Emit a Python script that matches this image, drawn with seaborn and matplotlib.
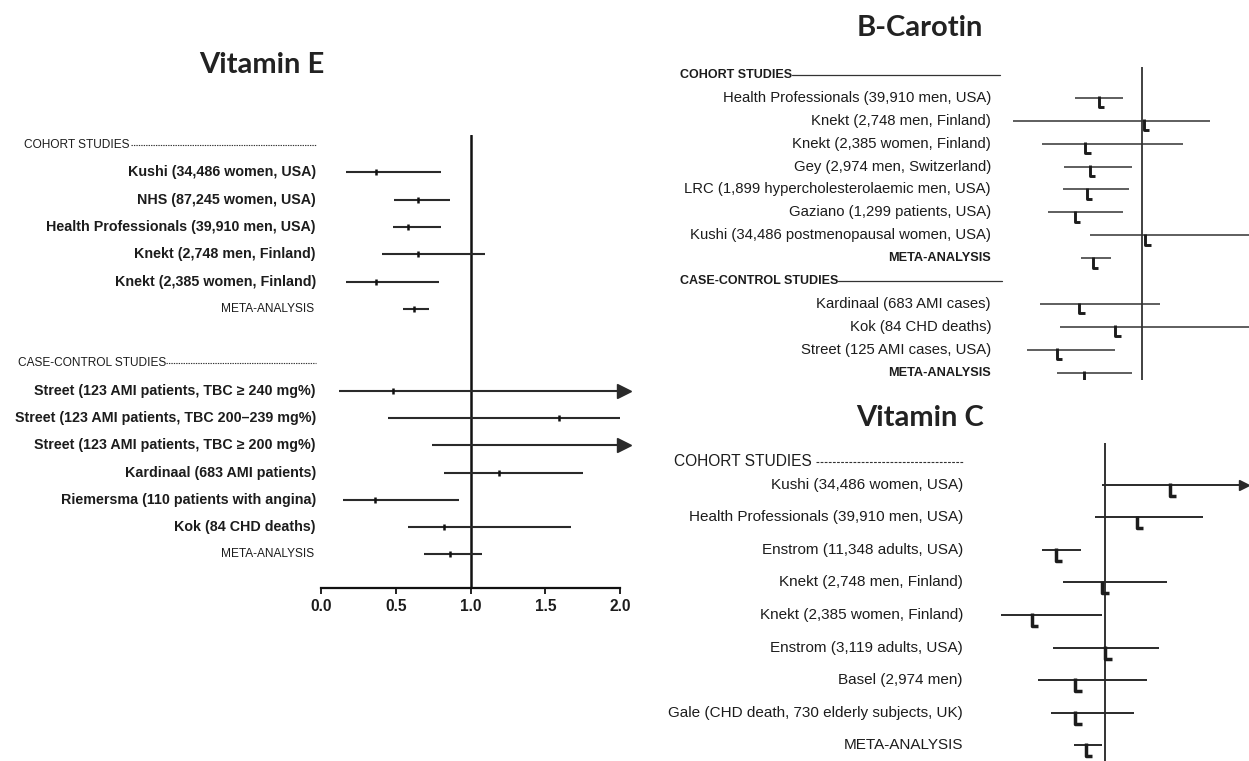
import numpy as np
import pandas as pd
import matplotlib
matplotlib.use("Agg")
import matplotlib.pyplot as plt
import seaborn as sns
from matplotlib.path import Path

# ------------------------------------------------------------------ data
# Vitamin E (relative risk, 95% CI)
vite_cohort_labels = ["Kushi (34,486 women, USA)", "NHS (87,245 women, USA)",
                      "Health Professionals (39,910 men, USA)",
                      "Knekt (2,748 men, Finland)", "Knekt (2,385 women, Finland)"]
vite_cohort_est = [0.37, 0.65, 0.58, 0.65, 0.37]
vite_cohort_lo = [0.17, 0.49, 0.48, 0.41, 0.17]
vite_cohort_hi = [0.80, 0.86, 0.80, 1.10, 0.79]
vite_cohort_meta = [0.62, 0.55, 0.72]

vite_case_labels = ["Street (123 AMI patients, TBC \u2265 240 mg%)",
                    "Street (123 AMI patients, TBC 200\u2013239 mg%)",
                    "Street (123 AMI patients, TBC \u2265 200 mg%)",
                    "Kardinaal (683 AMI patients)",
                    "Riemersma (110 patients with angina)",
                    "Kok (84 CHD deaths)"]
vite_case_est = [0.48, 1.59, np.nan, 1.19, 0.36, 0.82]
vite_case_lo = [0.12, 0.45, 0.74, 0.82, 0.15, 0.58]
vite_case_hi = [np.inf, 2.00, np.inf, 1.75, 0.92, 1.67]
vite_case_meta = [0.86, 0.69, 1.08]
vite_ticks = [0.0, 0.5, 1.0, 1.5, 2.0]

# B-Carotin
bc_cohort_labels = ["Health Professionals (39,910 men, USA)", "Knekt (2,748 men, Finland)",
                    "Knekt (2,385 women, Finland)", "Gey (2,974 men, Switzerland)",
                    "LRC (1,899 hypercholesterolaemic men, USA)",
                    "Gaziano (1,299 patients, USA)",
                    "Kushi (34,486 postmenopausal women, USA)"]
bc_cohort_est = [0.71, 1.01, 0.62, 0.65, 0.63, 0.55, 1.02]
bc_cohort_lo = [0.55, 0.14, 0.33, 0.48, 0.47, 0.37, 0.65]
bc_cohort_hi = [0.87, 1.45, 1.27, 0.93, 0.91, 0.87, 1.75]
bc_cohort_meta = [0.67, 0.59, 0.79]
bc_case_labels = ["Kardinaal (683 AMI cases)", "Kok (84 CHD deaths)",
                  "Street (125 AMI cases, USA)"]
bc_case_est = [0.58, 0.82, 0.43]
bc_case_lo = [0.32, 0.45, 0.23]
bc_case_hi = [1.12, 1.75, 0.82]
bc_case_meta = [0.61, 0.43, 0.93]

# Vitamin C
vc_labels = ["Kushi (34,486 women, USA)", "Health Professionals (39,910 men, USA)",
             "Enstrom (11,348 adults, USA)", "Knekt (2,748 men, Finland)",
             "Knekt (2,385 women, Finland)", "Enstrom (3,119 adults, USA)",
             "Basel (2,974 men)", "Gale (CHD death, 730 elderly subjects, UK)"]
vc_est = [1.43, 1.21, 0.67, 0.98, 0.51, 1.00, 0.80, 0.80]
vc_lo = [0.98, 0.93, 0.58, 0.72, 0.31, 0.65, 0.55, 0.64]
vc_hi = [np.inf, 1.65, 0.84, 1.41, 0.98, 1.36, 1.28, 1.19]
vc_meta = [0.87, 0.79, 0.98]

# ------------------------------------------------------------------ style
sns.set_theme(style="white")
plt.rcParams["font.family"] = ["Liberation Sans", "DejaVu Sans"]
TITLE_FONT = ["Lato", "DejaVu Sans"]
INK = "#1c1c1c"

W, H = 1249, 761
fig = plt.figure(figsize=(W / 100, H / 100), dpi=100)
fig.patch.set_facecolor("white")


def px_axes(l, t, r, b):
    ax = fig.add_axes([l / W, 1 - b / H, (r - l) / W, (b - t) / H])
    ax.set_facecolor("none")
    for s in ax.spines.values():
        s.set_visible(False)
    ax.set_xticks([])
    ax.set_yticks([])
    ax.grid(False)
    return ax


# L-shaped point-estimate marker (stem at the estimate, foot to the right)
L_MARK = Path([(0, 0.15), (0, -1.0), (0.62, -1.0)],
              [Path.MOVETO, Path.LINETO, Path.LINETO])


def build_frame(labels, est, lo, hi, rows, kind):
    return pd.DataFrame({"label": labels, "est": est, "lo": lo, "hi": hi,
                         "row": rows, "kind": kind})


def draw_ci(ax, df, lw, color, arrow_x, arrow_size, xmax):
    for _, r in df.iterrows():
        top = min(r["hi"], xmax)
        ax.hlines(r["row"], r["lo"], top, color=color, lw=lw, zorder=2)
        if np.isinf(r["hi"]):
            ax.plot([arrow_x], [r["row"]], marker=">", ms=arrow_size, color=color,
                    clip_on=False, zorder=3)


def label_rows(ax, df, dx, **kw):
    for _, r in df.iterrows():
        ax.annotate(r["label"], xy=(0, r["row"]), xycoords=ax.get_yaxis_transform(),
                    xytext=(dx, 0), textcoords="offset pixels", ha="right",
                    va="center", color=INK, annotation_clip=False, **kw)


def header(ax, text, row, dx, line_from, line_to, ls, lw, **kw):
    ax.annotate(text, xy=(0, row), xycoords=ax.get_yaxis_transform(),
                xytext=(dx, 0), textcoords="offset pixels", ha="left",
                va="center", color=INK, annotation_clip=False, **kw)
    w = ax.get_window_extent().width
    ax.plot([line_from / w, line_to / w], [row, row], transform=ax.get_yaxis_transform(),
            color="#333333", lw=lw, ls=ls, clip_on=False)


# ------------------------------------------------------------------ Vitamin E
axE = px_axes(321, 135, 620, 588)
axE.set_xlim(0, 2)
axE.set_ylim(16.23, -0.37)
e_rows_c = np.arange(1, 6)
e_rows_k = np.arange(9, 15)
dfE = pd.concat([
    build_frame(vite_cohort_labels, vite_cohort_est, vite_cohort_lo, vite_cohort_hi, e_rows_c, "study"),
    build_frame(["META-ANALYSIS"], [vite_cohort_meta[0]], [vite_cohort_meta[1]], [vite_cohort_meta[2]], [6], "meta"),
    build_frame(vite_case_labels, vite_case_est, vite_case_lo, vite_case_hi, e_rows_k, "study"),
    build_frame(["META-ANALYSIS"], [vite_case_meta[0]], [vite_case_meta[1]], [vite_case_meta[2]], [15], "meta"),
], ignore_index=True)

axE.axvline(1.0, color="#111111", lw=1.8, zorder=1)
draw_ci(axE, dfE, 1.5, "#2a2a2a", 2.03, 10, 2.0)
sns.scatterplot(data=dfE.dropna(subset=["est"]), x="est", y="row", marker="|", s=22,
                color="#111111", linewidth=1.8, ax=axE, zorder=4, legend=False)
axE.set_xlabel("")
axE.set_ylabel("")
axE.spines["bottom"].set_visible(True)
axE.spines["bottom"].set_color("#111111")
axE.spines["bottom"].set_linewidth(1.6)
axE.set_yticks([])
axE.set_xticks(vite_ticks)
axE.set_xticklabels([f"{t:.1f}" for t in vite_ticks], fontsize=11.2, fontweight="bold", color=INK)
axE.tick_params(axis="x", bottom=True, direction="out", length=4, width=1.3, color="#111111", pad=4)

label_rows(axE, dfE[dfE.kind == "study"], -5, fontsize=10.3, fontweight="bold")
label_rows(axE, dfE[dfE.kind == "meta"], -7, fontsize=8.6)
header(axE, "COHORT STUDIES", 0, 24 - 321, 131 - 321, 316 - 321, (0, (1.2, 1.0)), 0.8, fontsize=8.6)
header(axE, "CASE-CONTROL STUDIES", 8, 18 - 321, 166 - 321, 316 - 321, (0, (1.2, 1.0)), 0.8, fontsize=8.6)

# ------------------------------------------------------------------ B-Carotin
axB = px_axes(1000, 67, 1249, 380)
axB.set_xlim(1 - 142 / 150, 1 + 107 / 150)
axB.set_ylim(13.32, -0.35)
dfB = pd.concat([
    build_frame(bc_cohort_labels, bc_cohort_est, bc_cohort_lo, bc_cohort_hi, np.arange(1, 8), "study"),
    build_frame(["META-ANALYSIS"], [bc_cohort_meta[0]], [bc_cohort_meta[1]], [bc_cohort_meta[2]], [8], "meta"),
    build_frame(bc_case_labels, bc_case_est, bc_case_lo, bc_case_hi, np.arange(10, 13), "study"),
    build_frame(["META-ANALYSIS"], [bc_case_meta[0]], [bc_case_meta[1]], [bc_case_meta[2]], [13], "meta"),
], ignore_index=True)
axB.axvline(1.0, color="#333333", lw=1.3, zorder=1)
draw_ci(axB, dfB, 1.1, "#333333", np.nan, 0, 9)
sns.scatterplot(data=dfB, x="est", y="row", marker=L_MARK, s=185, color=INK,
                facecolor="none", edgecolor=INK, linewidth=2.1, ax=axB, zorder=4, legend=False)
axB.set_xlabel("")
axB.set_ylabel("")
axB.set_xticks([])
axB.set_yticks([])
label_rows(axB, dfB[dfB.kind == "study"], -9, fontsize=10.7)
label_rows(axB, dfB[dfB.kind == "meta"], -9, fontsize=9.2, fontweight="bold")
header(axB, "COHORT STUDIES", 0, 680 - 1000, 792 - 1000, 0, "-", 0.9, fontsize=9.0, fontweight="bold")
header(axB, "CASE-CONTROL STUDIES", 9, 680 - 1000, 838 - 1000, 2, "-", 0.9, fontsize=9.0, fontweight="bold")

# ------------------------------------------------------------------ Vitamin C
axC = px_axes(990, 443, 1249, 761)
axC.set_xlim(1 - 115 / 150, 1 + 144 / 150)
axC.set_ylim(8.49, -1.29)
dfC = pd.concat([
    build_frame(vc_labels, vc_est, vc_lo, vc_hi, np.arange(0, 8), "study"),
    build_frame(["META-ANALYSIS"], [vc_meta[0]], [vc_meta[1]], [vc_meta[2]], [8], "meta"),
], ignore_index=True)
axC.axvline(1.0, color="#333333", lw=1.4, zorder=1)
draw_ci(axC, dfC, 1.4, "#2a2a2a", 1 + 139 / 150, 7, 1 + 142 / 150)
sns.scatterplot(data=dfC, x="est", y="row", marker=L_MARK, s=250, color=INK,
                facecolor="none", edgecolor=INK, linewidth=2.5, ax=axC, zorder=4, legend=False)
axC.set_xlabel("")
axC.set_ylabel("")
axC.set_xticks([])
axC.set_yticks([])
label_rows(axC, dfC, -27, fontsize=11.0)
header(axC, "COHORT STUDIES", -0.71, 674 - 990, 816 - 990, 963 - 990, (0, (2.5, 1.2)), 0.8, fontsize=11.2)

# ------------------------------------------------------------------ titles
fig.text(262 / W, 1 - 65 / H, "Vitamin E", ha="center", va="center", fontsize=21,
         fontweight="bold", family=TITLE_FONT, color="#222222")
fig.text(920 / W, 1 - 28 / H, "B-Carotin", ha="center", va="center", fontsize=21,
         fontweight="bold", family=TITLE_FONT, color="#222222")
fig.text(920 / W, 1 - 418 / H, "Vitamin C", ha="center", va="center", fontsize=21,
         fontweight="bold", family=TITLE_FONT, color="#222222")

fig.savefig("out.png", dpi=100, facecolor="white")
